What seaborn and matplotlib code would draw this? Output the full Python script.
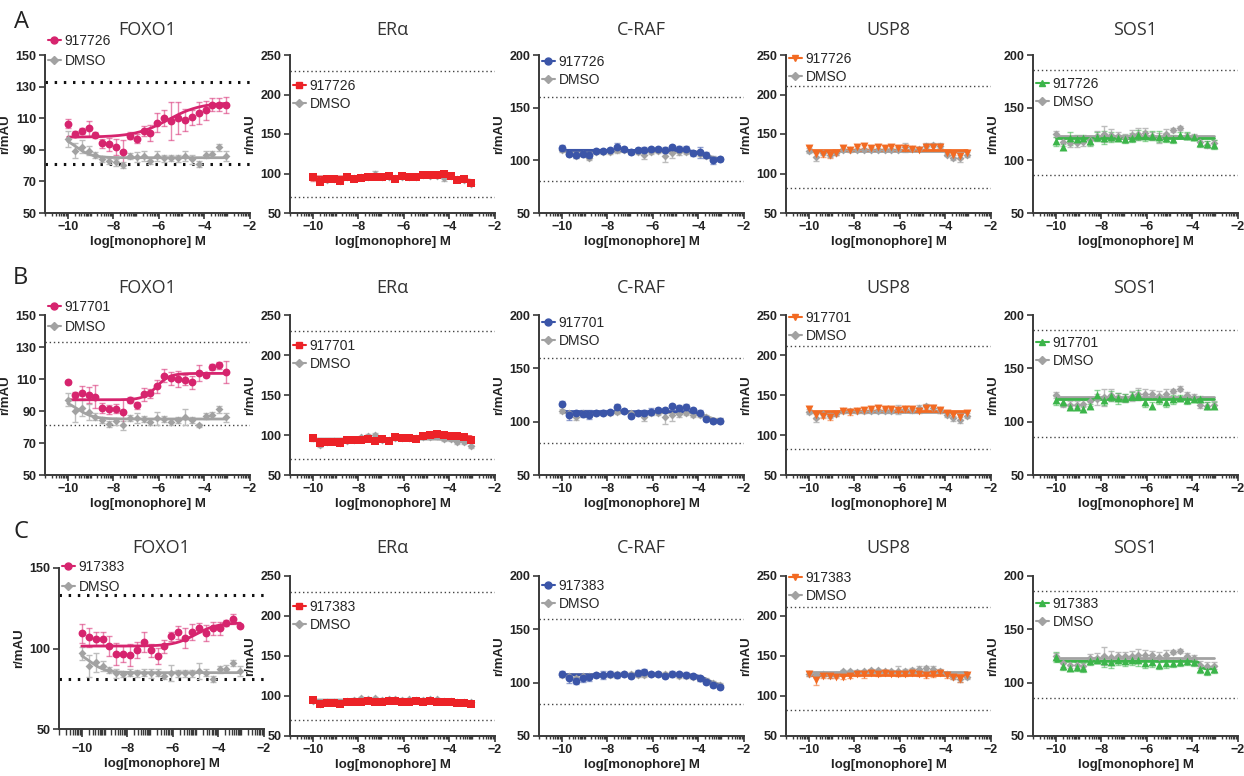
import numpy as np
import seaborn as sns
import matplotlib.pyplot as plt
from matplotlib.lines import Line2D

# log concentrations (1:2 dilution series)
log_conc = [-10.0, -9.7, -9.39, -9.09, -8.79, -8.49, -8.18, -7.88, -7.58, -7.28, -6.97, -6.67,
            -6.37, -6.07, -5.76, -5.46, -5.16, -4.86, -4.55, -4.25, -3.95, -3.65, -3.34, -3.04]

row_labels = ["A", "B", "C"]
compounds = ["917726", "917701", "917383"]
targets = ["FOXO1", "ERα", "C-RAF", "USP8", "SOS1"]

# ---------------- FOXO1 ----------------
foxo1_a = [106.5, 100, 102, 103.5, 99.5, 94, 93.5, 92, 88.5, 99, 97, 102, 100.5, 107, 110, 108, 110, 109, 110.5, 113.5, 115, 118.5, 118.5, 118.5]
foxo1_a_err = [3, 2, 2, 5, 2, 3, 4, 5, 8, 2, 3, 3, 5, 6, 5, 12, 10, 7, 5, 7, 6, 4, 4, 5]
foxo1_a_dmso = [97, 89.5, 92, 89.5, 86.5, 84, 83, 82, 80.5, 86, 85.5, 86, 83, 86, 84.5, 85, 84.5, 86, 84, 81, 87, 87.5, 91.5, 86]
foxo1_a_dmso_err = [5, 5, 4, 3, 2, 2, 2, 2, 2, 2, 3, 3, 2, 3, 2, 2, 2, 3, 3, 2, 2, 2, 2, 3]
foxo1_b = [108, 100, 101.5, 100, 99, 92, 91, 91.5, 89.5, 97, 93.5, 100.5, 101, 105.5, 112, 110.5, 110, 109.5, 108, 114, 112.5, 117.5, 118.5, 114.5]
foxo1_b_err = [1, 2, 4, 5, 7, 3, 3, 3, 8, 2, 2, 4, 3, 4, 4, 4, 5, 3, 4, 5, 1, 2, 2, 7]
foxo1_b_dmso = [97, 90, 92, 89.5, 86.5, 84.5, 82, 83.5, 81, 85.5, 85.5, 85, 83, 85.5, 85, 83, 84.5, 86, 84.5, 81, 87, 87.5, 91, 86]
foxo1_b_dmso_err = [4, 7, 5, 5, 2, 2, 2, 2, 3, 2, 3, 2, 2, 4, 2, 2, 2, 5, 2, 1, 2, 2, 2, 3]
foxo1_c = [109.5, 107, 106, 106, 101.5, 96.5, 96.5, 96, 99, 104, 99, 95.5, 101.5, 107.5, 110, 106.5, 110.5, 113, 109.5, 112.5, 112.5, 116, 118.5, 114]
foxo1_c_err = [6, 6, 4, 4, 6, 7, 5, 7, 5, 6, 4, 5, 4, 3, 4, 6, 5, 3, 5, 4, 4, 2, 3, 1]
foxo1_c_dmso = [97, 89, 91.5, 89, 86.5, 84.5, 84, 85, 84.5, 85, 84.5, 85, 83, 85, 84.5, 84.5, 84.5, 86, 85, 81, 87, 87.5, 91, 86]
foxo1_c_dmso_err = [4, 7, 6, 3, 2, 3, 2, 2, 2, 2, 3, 2, 2, 5, 2, 2, 2, 5, 2, 2, 2, 2, 2, 3]

# ---------------- ERa ----------------
era_a = [95, 89.5, 92.5, 92.5, 90, 96, 93, 94.5, 96, 96, 95.5, 97, 93.5, 97, 96, 95.5, 98.5, 98, 98.5, 100, 96.5, 92, 92.5, 88]
era_a_err = [4, 2, 2, 2, 2, 3, 2, 2, 2, 3, 2, 2, 2, 2, 2, 2, 2, 2, 2, 3, 2, 2, 2, 2]
era_a_dmso = [96, 91, 92, 93, 91, 95, 94, 95, 96, 100, 95, 96, 94, 96, 96, 96, 98, 97, 97, 94, 97, 93, 92, 87]
era_a_dmso_err = [2, 2, 2, 2, 2, 2, 2, 2, 2, 3, 2, 2, 2, 2, 2, 2, 2, 2, 2, 3, 2, 2, 2, 2]
era_b = [96, 90.5, 91, 91.5, 89.5, 93.5, 93.5, 94, 95, 92.5, 95, 93, 97, 96, 96.5, 95.5, 99, 99.5, 101, 100, 98.5, 98.5, 97, 94]
era_b_err = [3, 2, 2, 2, 2, 2, 2, 2, 2, 2, 2, 2, 2, 2, 2, 2, 2, 2, 2, 2, 2, 2, 2, 3]
era_b_dmso = [96, 87, 91, 92, 90, 93, 94, 97, 99, 100, 94, 94, 96, 96, 96, 96, 97, 97, 99, 95, 95, 91, 91, 86]
era_b_dmso_err = [2, 2, 2, 2, 2, 2, 2, 2, 2, 2, 2, 2, 2, 2, 2, 2, 2, 2, 2, 2, 2, 2, 2, 2]
era_c = [95, 90, 91, 91, 90, 93, 92, 93, 94, 93, 92, 94, 94, 93, 93, 94, 93, 94, 93, 92, 92, 91, 91, 90]
era_c_err = [3, 2, 2, 2, 2, 2, 2, 2, 2, 2, 2, 2, 2, 2, 2, 2, 2, 2, 2, 2, 2, 2, 2, 3]
era_c_dmso = [94, 90, 92, 92, 91, 94, 95, 97, 96, 97, 95, 96, 96, 95, 96, 95, 95, 96, 96, 94, 94, 93, 92, 92]
era_c_dmso_err = [2, 2, 2, 2, 2, 2, 2, 2, 2, 2, 2, 2, 2, 2, 2, 2, 2, 2, 2, 2, 2, 2, 2, 2]

# ---------------- C-RAF ----------------
craf_a = [111.5, 106, 105.5, 106, 105.5, 109, 109, 110, 112.5, 111, 108, 109.5, 109.5, 110.5, 111, 109.5, 113, 110.5, 111, 106.5, 107.5, 105, 100.5, 101]
craf_a_err = [3, 2, 3, 2, 2, 2, 2, 2, 4, 2, 2, 2, 3, 2, 2, 3, 2, 3, 3, 2, 5, 3, 4, 2]
craf_a_dmso = [110, 106, 104, 106, 102, 108, 108, 108, 110, 110, 108, 108, 105, 108, 109, 104, 107, 108, 108, 107, 106, 104, 101, 101]
craf_a_dmso_err = [2, 2, 2, 2, 2, 2, 2, 2, 3, 2, 2, 2, 4, 2, 2, 6, 5, 3, 2, 2, 2, 2, 2, 2]
craf_b = [117, 106, 108, 107.5, 106.5, 108, 108.5, 109, 114, 110, 105.5, 108, 108, 109.5, 111, 110.5, 114.5, 113, 113.5, 111, 108.5, 102.5, 100.5, 101]
craf_b_err = [2, 4, 2, 3, 4, 2, 2, 2, 3, 2, 2, 2, 3, 3, 2, 2, 2, 3, 3, 2, 2, 2, 2, 2]
craf_b_dmso = [110, 108, 104, 108, 106, 108, 108, 108, 109, 110, 108, 108, 104, 108, 108, 104, 106, 107, 108, 106, 106, 104, 101, 101]
craf_b_dmso_err = [2, 2, 2, 2, 2, 2, 2, 2, 2, 2, 2, 2, 3, 2, 2, 6, 5, 3, 2, 2, 2, 2, 2, 2]
craf_c = [108, 104, 102, 104, 105, 107, 107, 108, 107, 108, 106, 109, 110, 108, 108, 106, 108, 108, 107, 106, 104, 101, 98, 96]
craf_c_err = [3, 4, 3, 3, 3, 2, 4, 3, 3, 2, 2, 3, 3, 2, 2, 2, 3, 2, 3, 2, 2, 2, 2, 2]
craf_c_dmso = [107, 106, 104, 106, 106, 107, 107, 107, 108, 108, 108, 107, 107, 108, 108, 108, 108, 106, 106, 105, 104, 102, 100, 98]
craf_c_dmso_err = [2, 2, 2, 2, 2, 2, 2, 2, 2, 2, 2, 2, 2, 2, 2, 2, 2, 2, 2, 2, 2, 2, 2, 2]

# ---------------- USP8 ----------------
usp8_a = [132, 125, 124.5, 123, 125.5, 132.5, 129.5, 133, 134.5, 132, 133.5, 132.5, 133, 132, 132, 130.5, 130, 133.5, 134, 134, 126, 124, 122, 126.5]
usp8_a_err = [3, 4, 3, 3, 2, 2, 2, 2, 2, 2, 2, 2, 2, 2, 3, 2, 2, 3, 3, 3, 2, 3, 4, 3]
usp8_a_dmso = [129, 121, 126, 124, 126, 130, 130, 130, 130, 130, 130, 130, 130, 130, 133, 131, 131, 135, 136, 135, 124, 120, 119, 124]
usp8_a_dmso_err = [3, 5, 3, 3, 2, 2, 2, 2, 2, 2, 2, 2, 2, 2, 6, 3, 3, 3, 3, 3, 2, 3, 4, 3]
usp8_b = [133, 124.5, 124, 122, 126, 130, 129, 130, 131, 132, 134, 132, 133, 131, 133, 132, 130, 134, 134, 131, 127, 125, 123, 127]
usp8_b_err = [3, 4, 3, 3, 2, 3, 4, 2, 3, 2, 2, 2, 2, 2, 3, 2, 2, 3, 3, 3, 2, 3, 4, 3]
usp8_b_dmso = [129, 121, 126, 124, 126, 130, 130, 130, 130, 130, 130, 130, 130, 132, 132, 131, 134, 136, 134, 131, 125, 121, 119, 124]
usp8_b_dmso_err = [3, 5, 3, 3, 2, 2, 2, 2, 2, 2, 2, 2, 2, 6, 3, 3, 3, 3, 3, 3, 2, 3, 4, 3]
usp8_c = [128, 120, 125, 125, 124, 124, 125, 128, 127, 129, 127, 129, 128, 128, 128, 129, 127, 126, 127, 129, 126, 124, 121, 126]
usp8_c_err = [3, 6, 3, 3, 2, 3, 3, 3, 4, 2, 2, 2, 2, 3, 3, 2, 2, 3, 3, 2, 4, 3, 4, 3]
usp8_c_dmso = [128, 126, 127, 126, 126, 131, 131, 130, 131, 132, 132, 131, 131, 131, 131, 132, 134, 135, 134, 131, 128, 124, 121, 124]
usp8_c_dmso_err = [3, 3, 3, 3, 2, 2, 2, 2, 2, 2, 2, 2, 2, 6, 3, 3, 3, 3, 3, 3, 2, 3, 4, 3]

# ---------------- SOS1 ----------------
sos1_a = [118, 112.5, 121, 120.5, 121.5, 118, 122.5, 121.5, 122, 121, 120.5, 121.5, 124, 123, 123.5, 122.5, 121.5, 120.5, 124, 123.5, 122, 116.5, 115.5, 115]
sos1_a_err = [4, 3, 6, 4, 3, 4, 4, 6, 5, 3, 4, 4, 5, 5, 4, 5, 4, 4, 3, 3, 2, 4, 3, 4]
sos1_a_dmso = [125, 117, 116, 116, 117, 119, 123, 125, 124, 123, 121, 124, 125, 126, 123, 121, 125, 129, 131, 123, 122, 117, 115, 116]
sos1_a_dmso_err = [3, 3, 3, 3, 3, 4, 5, 8, 6, 4, 4, 5, 6, 5, 4, 5, 5, 2, 2, 3, 3, 3, 3, 3]
sos1_b = [120, 118, 114, 114, 112, 115, 125, 120, 124, 122, 122, 124, 125, 118, 115, 121, 118, 121, 122, 120, 121, 121, 115, 115]
sos1_b_err = [4, 3, 3, 3, 3, 2, 5, 4, 5, 5, 4, 4, 5, 4, 3, 4, 4, 4, 3, 3, 2, 3, 3, 3]
sos1_b_dmso = [125, 117, 116, 116, 117, 119, 121, 123, 125, 123, 122, 124, 126, 126, 126, 124, 126, 129, 131, 125, 123, 116, 115, 116]
sos1_b_dmso_err = [3, 3, 3, 3, 3, 4, 5, 8, 6, 4, 4, 5, 6, 5, 4, 5, 5, 2, 2, 3, 3, 3, 3, 3]
sos1_c = [124, 116, 114, 115, 114, 120, 121, 120, 119, 121, 120, 121, 121, 118, 119, 117, 118, 118, 119, 120, 119, 113, 111, 113]
sos1_c_err = [5, 4, 3, 4, 4, 3, 3, 5, 5, 4, 4, 4, 5, 4, 4, 4, 4, 3, 3, 3, 3, 4, 4, 4]
sos1_c_dmso = [125, 118, 117, 117, 116, 123, 123, 125, 124, 125, 125, 125, 126, 126, 126, 124, 126, 129, 130, 125, 123, 117, 116, 116]
sos1_c_dmso_err = [3, 3, 3, 3, 3, 4, 5, 8, 6, 4, 4, 5, 6, 5, 4, 5, 5, 2, 2, 3, 3, 3, 3, 3]

# fitted curve params: [left plateau, right plateau, logEC50, hill]
foxo1_fits = [[98, 120, -5.6, 0.6], [97, 113.5, -6.1, 1.5], [101.5, 116, -5.0, 0.9]]
foxo1_dmso_fits = [[100, 85, -9.7, 1.2], [98, 85, -9.6, 1.2], [100, 85, -9.7, 1.2]]
era_fits = [[95.5, 91, -3.6, 2], [94.5, 98, -5.3, 1.5], [93, 91.5, -4, 1]]
era_dmso_fits = [[95.5, 91, -3.6, 2], [95, 92, -4, 2], [95, 93, -4, 1]]
craf_fits = [[109.5, 101, -3.8, 2], [109.5, 100.5, -3.8, 2.5], [107.5, 97, -3.6, 2]]
craf_dmso_fits = [[108.5, 101, -3.6, 2], [108.5, 101, -3.6, 2], [107.5, 98, -3.6, 2]]
usp8_fits = [[130, 130, -6, 1], [129.5, 129.5, -6, 1], [126.5, 126.5, -6, 1]]
usp8_dmso_fits = [[129, 129, -6, 1], [129, 129, -6, 1], [130, 130, -6, 1]]
sos1_fits = [[121.5, 121.5, -6, 1], [121, 121, -6, 1], [120, 113, -3.65, 8]]
sos1_dmso_fits = [[123, 123, -6, 1], [123.5, 123.5, -6, 1], [123.5, 123.5, -6, 1]]

# assay window (dotted lines)
thresholds = {"FOXO1": [81, 133], "ERα": [70, 230], "C-RAF": [80, 160], "USP8": [82, 211], "SOS1": [86, 186]}
ylims = {"FOXO1": (50, 150), "ERα": (50, 250), "C-RAF": (50, 200), "USP8": (50, 250), "SOS1": (50, 200)}
colors = {"FOXO1": "#d6246e", "ERα": "#ec2227", "C-RAF": "#3b55a8", "USP8": "#f26a22", "SOS1": "#3cb54a"}
markers = {"FOXO1": "o", "ERα": "s", "C-RAF": "o", "USP8": "v", "SOS1": "^"}
dmso_color = "#a2a2a2"

panel_data = {
    "FOXO1": [(foxo1_a, foxo1_a_err, foxo1_a_dmso, foxo1_a_dmso_err),
              (foxo1_b, foxo1_b_err, foxo1_b_dmso, foxo1_b_dmso_err),
              (foxo1_c, foxo1_c_err, foxo1_c_dmso, foxo1_c_dmso_err)],
    "ERα": [(era_a, era_a_err, era_a_dmso, era_a_dmso_err),
            (era_b, era_b_err, era_b_dmso, era_b_dmso_err),
            (era_c, era_c_err, era_c_dmso, era_c_dmso_err)],
    "C-RAF": [(craf_a, craf_a_err, craf_a_dmso, craf_a_dmso_err),
              (craf_b, craf_b_err, craf_b_dmso, craf_b_dmso_err),
              (craf_c, craf_c_err, craf_c_dmso, craf_c_dmso_err)],
    "USP8": [(usp8_a, usp8_a_err, usp8_a_dmso, usp8_a_dmso_err),
             (usp8_b, usp8_b_err, usp8_b_dmso, usp8_b_dmso_err),
             (usp8_c, usp8_c_err, usp8_c_dmso, usp8_c_dmso_err)],
    "SOS1": [(sos1_a, sos1_a_err, sos1_a_dmso, sos1_a_dmso_err),
             (sos1_b, sos1_b_err, sos1_b_dmso, sos1_b_dmso_err),
             (sos1_c, sos1_c_err, sos1_c_dmso, sos1_c_dmso_err)],
}
fit_data = {"FOXO1": (foxo1_fits, foxo1_dmso_fits), "ERα": (era_fits, era_dmso_fits),
            "C-RAF": (craf_fits, craf_dmso_fits), "USP8": (usp8_fits, usp8_dmso_fits),
            "SOS1": (sos1_fits, sos1_dmso_fits)}


def four_pl(x, left, right, logec50, hill):
    return left + (right - left) / (1 + 10 ** ((logec50 - x) * hill))


sns.set_theme(style="ticks")
bold_font = ["Liberation Sans Narrow", "Liberation Sans", "DejaVu Sans"]
title_font = ["Open Sans", "DejaVu Sans"]
plt.rcParams["font.family"] = bold_font

W, H = 1244, 776
fig = plt.figure(figsize=(W / 100, H / 100), dpi=100)

# layout in pixels
row_top = [55, 315, 576]
row_bottom = [213, 475, 736]
col_left = [45, 290, 539, 786, 1033]
ax_w = 205
title_y = [30, 288, 548]
legend_first = [[41, 86, 62, 59, 84], [307, 346, 323, 318, 343], [567, 607, 586, 578, 604]]
label_pos = [(22, 22), (20, 278), (21, 532)]

# log-style minor ticks like the original software
minor = []
for k in range(-11, -2):
    minor += [k + np.log10(m) for m in range(2, 10)]
    minor.append(k)

xfit = np.linspace(log_conc[0], log_conc[-1], 300)

for r in range(3):
    fig.text(label_pos[r][0] / W, 1 - label_pos[r][1] / H, row_labels[r], fontsize=17,
             family=title_font, color="#222222", ha="center", va="center")
    for c, tgt in enumerate(targets):
        left, top, bottom = col_left[c], row_top[r], row_bottom[r]
        special = tgt == "FOXO1" and r == 2
        if special:
            left, top, bottom = 59, 568, 729
        ax = fig.add_axes([left / W, 1 - bottom / H, ax_w / W, (bottom - top) / H])
        col = colors[tgt]
        cpd, cpd_err, dmso, dmso_err = panel_data[tgt][r]
        cfit, dfit = fit_data[tgt][0][r], fit_data[tgt][1][r]

        # dotted assay window lines
        thick = tgt == "FOXO1" and r != 1
        for t in thresholds[tgt]:
            ax.axhline(t, color="#111111" if thick else "#444444", lw=2.2 if thick else 1.0,
                       linestyle=(0, (0.8, 2.2)) if thick else (0, (1, 2)), zorder=0)

        # DMSO series
        ax.errorbar(log_conc, dmso, yerr=dmso_err, fmt="none", ecolor="#bdbdbd",
                    elinewidth=1, capsize=2.5, capthick=1, zorder=1)
        sns.lineplot(x=xfit, y=four_pl(xfit, *dfit), color=dmso_color, lw=2, ax=ax, zorder=2)
        sns.scatterplot(x=log_conc, y=dmso, marker="D", color=dmso_color, s=16,
                        linewidth=0, ax=ax, zorder=3)

        # compound series
        ax.errorbar(log_conc, cpd, yerr=cpd_err, fmt="none", ecolor=col, alpha=0.55,
                    elinewidth=1, capsize=2.5, capthick=1, zorder=1)
        sns.lineplot(x=xfit, y=four_pl(xfit, *cfit), color=col, lw=2, ax=ax, zorder=2)
        sns.scatterplot(x=log_conc, y=cpd, marker=markers[tgt], color=col, s=32,
                        linewidth=0, ax=ax, zorder=4)

        ax.set_xlim(-11, -2)
        ax.set_ylim(*ylims[tgt])
        ax.set_xticks([-10, -8, -6, -4, -2])
        ax.set_xticks(minor, minor=True)
        if tgt == "FOXO1":
            ax.set_yticks([50, 100, 150] if r == 2 else [50, 70, 90, 110, 130, 150])
        else:
            lo, hi = ylims[tgt]
            ax.set_yticks(list(range(lo, hi + 1, 50)))
        sns.despine(ax=ax)
        for s in ["left", "bottom"]:
            ax.spines[s].set_color("#3a3a3a")
            ax.spines[s].set_linewidth(1.4)
        ax.tick_params(which="major", length=4, width=1.2, color="#3a3a3a", pad=2,
                       labelsize=9)
        ax.tick_params(which="minor", length=2.5, width=1.0, color="#3a3a3a")
        ax.tick_params(axis="y", which="minor", length=0)
        if special:
            ax.tick_params(axis="x", which="major", length=6, pad=4)
            ax.tick_params(axis="x", which="minor", length=4)
        for lab in ax.get_xticklabels() + ax.get_yticklabels():
            lab.set_fontweight("bold")
            lab.set_color("#222222")
        ax.set_xlabel("log[monophore] M", fontsize=9.5, fontweight="bold", color="#222222", labelpad=2)
        ax.set_ylabel("r/mAU", fontsize=9.5, fontweight="bold", color="#222222", labelpad=3)

        fig.text((left + ax_w / 2) / W, 1 - title_y[r] / H, tgt, fontsize=13, family=title_font,
                 color="#333333", ha="center", va="center")

        # legend
        handles = [Line2D([], [], color=col, marker=markers[tgt], markersize=5, lw=1.5),
                   Line2D([], [], color=dmso_color, marker="D", markersize=4, lw=1.5)]
        spacing = 0.45 if tgt == "FOXO1" else 0.3
        by = (bottom - (legend_first[r][c] - 7)) / (bottom - top)
        ax.legend(handles, [compounds[r], "DMSO"], loc="upper left", bbox_to_anchor=(0.015, by),
                  frameon=False, fontsize=10, handlelength=0.9, handletextpad=0.3,
                  labelspacing=spacing, borderpad=0, borderaxespad=0)

fig.savefig("out.png", dpi=100)
